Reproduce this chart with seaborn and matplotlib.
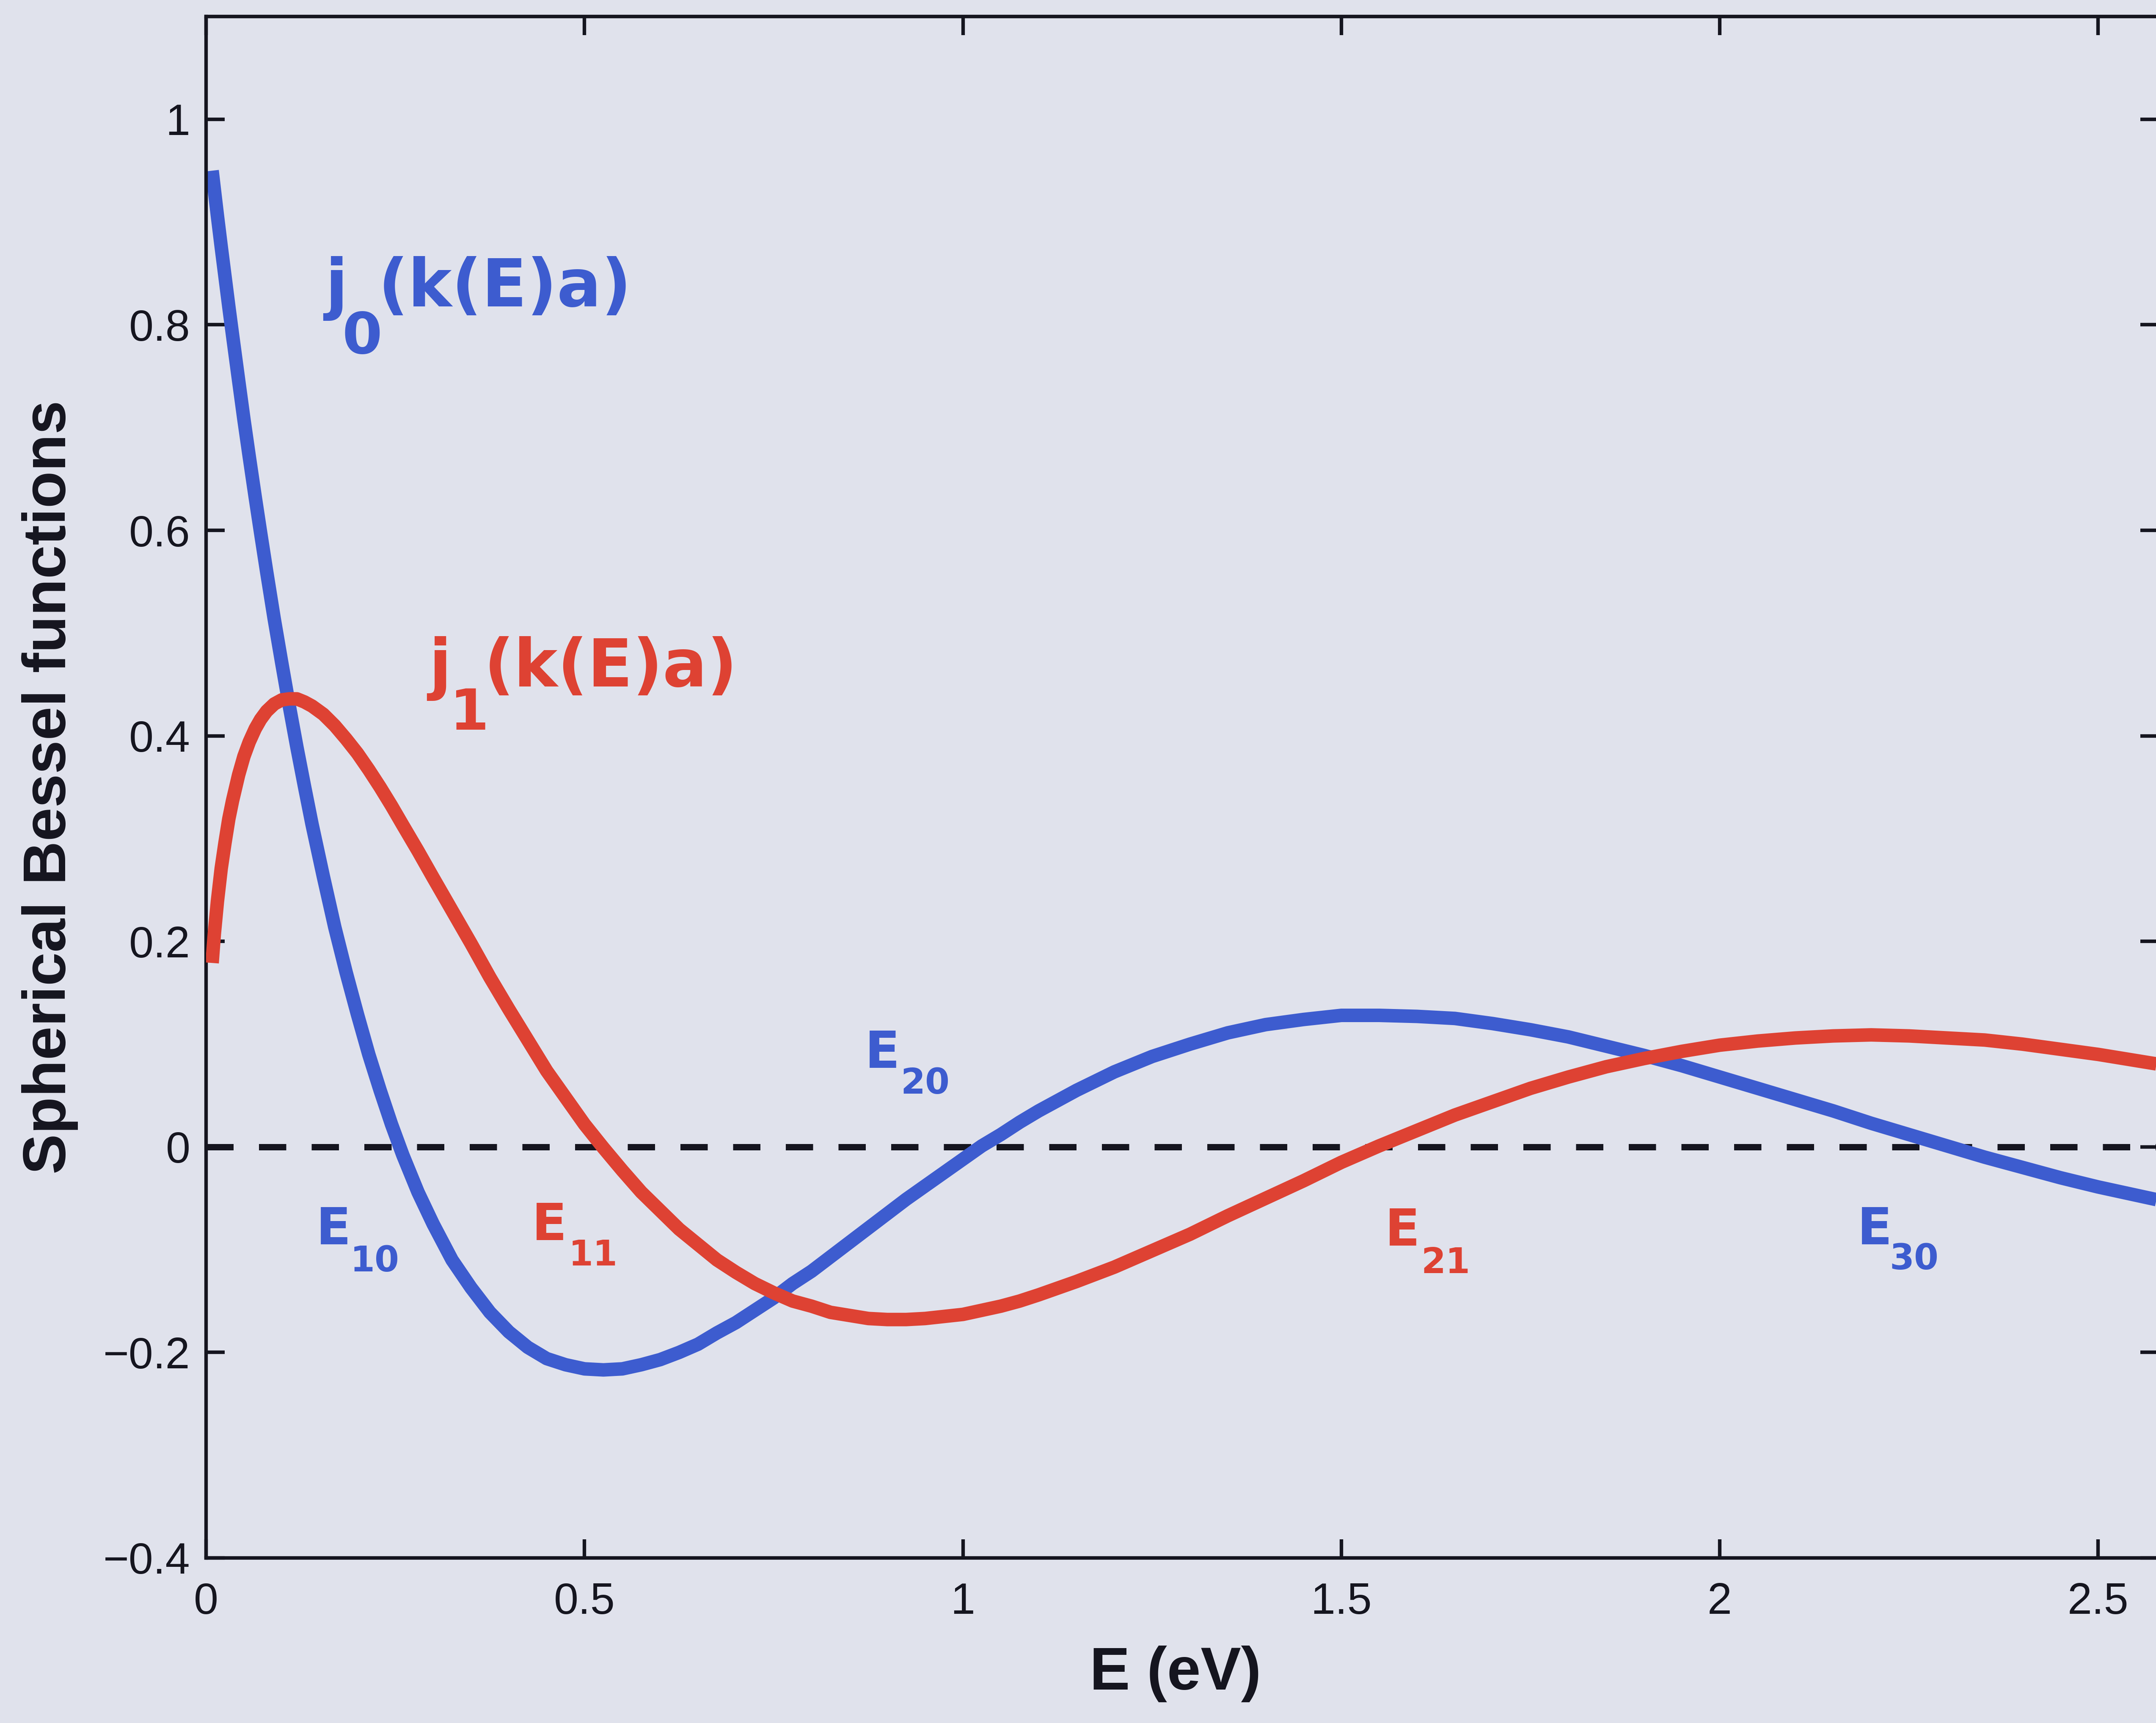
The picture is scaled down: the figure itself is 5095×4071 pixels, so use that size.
import matplotlib
matplotlib.use("Agg")
import matplotlib.pyplot as plt
import seaborn as sns

# values
energy = [0.008, 0.011, 0.015, 0.020, 0.025, 0.030, 0.035, 0.043, 0.050, 0.057,
          0.065, 0.072, 0.080, 0.090, 0.100, 0.110, 0.120, 0.130, 0.140, 0.155,
          0.170, 0.185, 0.200, 0.215, 0.230, 0.245, 0.260, 0.280, 0.300, 0.325,
          0.350, 0.375, 0.400, 0.425, 0.450, 0.475, 0.500, 0.525, 0.550, 0.575,
          0.600, 0.625, 0.650, 0.675, 0.700, 0.725, 0.750, 0.775, 0.800, 0.825,
          0.850, 0.875, 0.900, 0.925, 0.950, 0.975, 1.000, 1.025, 1.050, 1.075,
          1.100, 1.150, 1.200, 1.250, 1.300, 1.350, 1.400, 1.450, 1.500, 1.550,
          1.600, 1.650, 1.700, 1.750, 1.800, 1.850, 1.900, 1.950, 2.000, 2.050,
          2.100, 2.150, 2.200, 2.250, 2.300, 2.350, 2.400, 2.450, 2.500, 2.550,
          2.600]
j0_vals = [0.950, 0.931, 0.906, 0.876, 0.847, 0.818, 0.790, 0.746, 0.708, 0.672,
           0.632, 0.598, 0.560, 0.514, 0.471, 0.429, 0.389, 0.351, 0.314, 0.263,
           0.214, 0.170, 0.129, 0.090, 0.055, 0.022, -0.008, -0.044, -0.075, -0.110,
           -0.137, -0.161, -0.180, -0.195, -0.206, -0.212, -0.216, -0.217, -0.216, -0.212,
           -0.207, -0.200, -0.192, -0.181, -0.171, -0.159, -0.147, -0.133, -0.121, -0.107,
           -0.093, -0.079, -0.065, -0.051, -0.038, -0.025, -0.012, 0.001, 0.012, 0.024,
           0.035, 0.055, 0.073, 0.088, 0.100, 0.111, 0.119, 0.124, 0.128, 0.128,
           0.127, 0.125, 0.120, 0.114, 0.107, 0.098, 0.089, 0.079, 0.068, 0.057,
           0.046, 0.035, 0.023, 0.012, 0.001, -0.010, -0.020, -0.030, -0.039, -0.047,
           -0.055]
j1_vals = [0.179, 0.208, 0.239, 0.271, 0.296, 0.319, 0.337, 0.362, 0.380, 0.394,
           0.407, 0.416, 0.424, 0.431, 0.435, 0.436, 0.436, 0.433, 0.429, 0.421,
           0.410, 0.397, 0.383, 0.367, 0.350, 0.332, 0.313, 0.288, 0.262, 0.230,
           0.198, 0.165, 0.134, 0.104, 0.074, 0.048, 0.022, -0.001, -0.023, -0.044,
           -0.062, -0.080, -0.095, -0.110, -0.122, -0.133, -0.142, -0.150, -0.155, -0.161,
           -0.164, -0.167, -0.168, -0.168, -0.167, -0.165, -0.163, -0.159, -0.155, -0.150,
           -0.144, -0.131, -0.117, -0.101, -0.085, -0.067, -0.050, -0.033, -0.015, 0.001,
           0.016, 0.031, 0.044, 0.057, 0.068, 0.078, 0.086, 0.093, 0.099, 0.103,
           0.106, 0.108, 0.109, 0.108, 0.106, 0.104, 0.100, 0.095, 0.090, 0.084,
           0.078]

x_ticks = [0, 0.5, 1, 1.5, 2, 2.5]
x_tick_labels = ["0", "0.5", "1", "1.5", "2", "2.5"]
y_ticks = [-0.4, -0.2, 0, 0.2, 0.4, 0.6, 0.8, 1]
y_tick_labels = ["\u22120.4", "\u22120.2", "0", "0.2", "0.4", "0.6", "0.8", "1"]

level_names = ["10", "11", "20", "21", "30"]
level_series = ["j0", "j1", "j0", "j1", "j0"]

BG = "#E0E2EC"
BLUE = "#3D5CCF"
RED = "#DE4233"
INK = "#15151f"
colors = {"j0": BLUE, "j1": RED}

sns.set_style("ticks")
plt.rcParams["font.family"] = ["Liberation Sans", "DejaVu Sans"]

fig = plt.figure(figsize=(50.95, 40.71), dpi=100, facecolor=BG)
ax = fig.add_axes([0.09558, 0.0958, 0.9057, 0.8946])
ax.set_facecolor(BG)

ax.axhline(0, color=INK, lw=10.8, linestyle=(0, (4.3, 4.0)), zorder=1)
sns.lineplot(x=energy, y=j0_vals, ax=ax, color=BLUE, lw=23,
             solid_capstyle="butt", solid_joinstyle="round", zorder=2)
sns.lineplot(x=energy, y=j1_vals, ax=ax, color=RED, lw=23,
             solid_capstyle="butt", solid_joinstyle="round", zorder=3)

ax.set_xlim(0, 2.58)
ax.set_ylim(-0.4, 1.1)
ax.set_xticks(x_ticks)
ax.set_xticklabels(x_tick_labels)
ax.set_yticks(y_ticks)
ax.set_yticklabels(y_tick_labels)
ax.tick_params(direction="in", length=32, width=6, color=INK,
               labelcolor=INK, labelsize=75, top=True, right=True)
ax.tick_params(axis="x", pad=41)
ax.tick_params(axis="y", pad=27)
for sp in ax.spines.values():
    sp.set_visible(True)
    sp.set_linewidth(6)
    sp.set_color(INK)

ax.set_xlabel("E (eV)", fontsize=103, fontweight="bold", color=INK)
ax.set_ylabel("Spherical Bessel functions", fontsize=103, fontweight="bold", color=INK)
ax.xaxis.set_label_coords(0.4965, -0.0568)
ax.yaxis.set_label_coords(-0.0654, 0.5)

ann = dict(fontweight="bold", family="DejaVu Sans", ha="left", va="baseline")

# curve names: j, subscript, argument
ax.text(0.157, 0.818, "j", color=BLUE, fontsize=112, **ann)
ax.text(0.1795, 0.772, "0", color=BLUE, fontsize=98, **ann)
ax.text(0.2276, 0.818, "(k(E)a)", color=BLUE, fontsize=112, **ann)
ax.text(0.294, 0.448, "j", color=RED, fontsize=112, **ann)
ax.text(0.322, 0.406, "1", color=RED, fontsize=96, **ann)
ax.text(0.367, 0.448, "(k(E)a)", color=RED, fontsize=112, **ann)

# level labels
main_pos = [(0.1454, -0.0947), (0.4305, -0.0905), (0.8706, 0.077),
            (1.5577, -0.0959), (2.1817, -0.0947)]
sub_pos = [(0.1907, -0.121), (0.479, -0.1156), (0.9175, 0.0519),
           (1.6053, -0.123), (2.2242, -0.1193)]
for name, ser, (mx, my), (sx, sy) in zip(level_names, level_series, main_pos, sub_pos):
    c = colors[ser]
    ax.text(mx, my, "E", color=c, fontsize=87, **ann)
    ax.text(sx, sy, name, color=c, fontsize=60, **ann)

fig.savefig("out.png", dpi=100, facecolor=BG)
